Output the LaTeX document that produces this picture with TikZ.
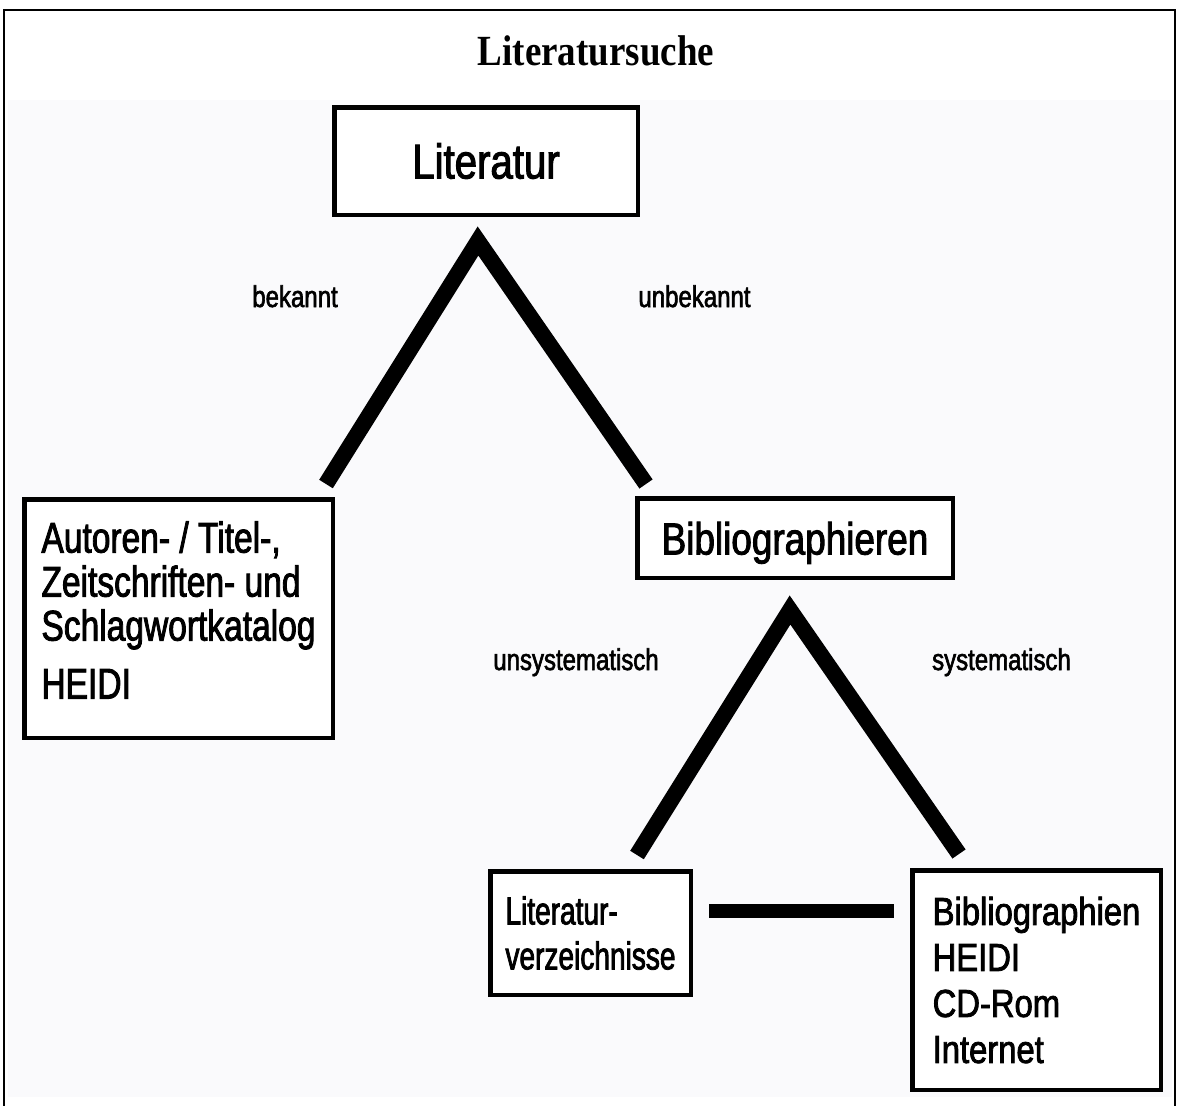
\documentclass[tikz,border=0pt]{standalone}
\usepackage{fontspec}
\setmainfont{Liberation Sans}
\newfontfamily\titlefont{Liberation Serif}[FakeStretch=0.86]
\newfontfamily\boxfont{Liberation Sans}[FakeStretch=0.82,FakeBold=2]
\newfontfamily\katfont{Liberation Sans}[FakeStretch=0.78,FakeBold=2]
\newfontfamily\narrowfont{Liberation Sans}[FakeStretch=0.72,FakeBold=2]
\newfontfamily\rightfont{Liberation Sans}[FakeStretch=0.84,FakeBold=2]
\newfontfamily\labelfont{Liberation Sans}[FakeStretch=0.80,FakeBold=2]
\definecolor{scanbg}{RGB}{250,250,252}
\tikzset{
  box/.style={draw=black, line width=4.5pt, inner sep=0pt, align=left, fill=white},
  leg/.style={draw=black, line width=16pt, line join=miter, line cap=butt},
  barline/.style={draw=black, line width=14pt, line cap=butt},
  lbl/.style={anchor=base, inner sep=0pt, font=\labelfont\fontsize{30}{32}\selectfont},
}
\begin{document}
\begin{tikzpicture}[x=1pt,y=-1pt]
\useasboundingbox (0,0) rectangle (1179,1106);
\fill[white] (0,0) rectangle (1179,1106);
\fill[scanbg] (8,100) rectangle (1172,1097);
\draw[line width=2.5pt] (4,1106) -- (4,10) -- (1175,10) -- (1175,1106);

\node[anchor=base, inner sep=0pt, font=\titlefont\bfseries\fontsize{43}{45}\selectfont] (title) at (596,65) {Literatursuche};

\node[box, minimum width=303.5pt, minimum height=107.5pt, text height=35pt, text depth=0pt,
      font=\boxfont\fontsize{49}{52}\selectfont] (lit) at (486,161) {Literatur};

\node[box, minimum width=308.5pt, minimum height=238.5pt,
      font=\katfont\fontsize{43}{44}\selectfont] (kat) at (178.5,618.5)
  {Autoren- / Titel-,\\Zeitschriften- und\\Schlagwortkatalog\\[14pt]HEIDI\rule[-17pt]{0pt}{0pt}};

\node[box, minimum width=315.5pt, minimum height=79.5pt, text height=33pt, text depth=0pt,
      font=\boxfont\fontsize{45}{48}\selectfont] (bib) at (795,538) {Bibliographieren};

\node[box, minimum width=200.5pt, minimum height=123.5pt,
      font=\narrowfont\fontsize{39}{45}\selectfont] (verz) at (590.5,933)
  {Literatur-\\verzeichnisse};

\node[box, minimum width=248.5pt, minimum height=219.5pt,
      font=\rightfont\fontsize{39}{46}\selectfont] (bibl) at (1036.5,980)
  {Bibliographien\\HEIDI\\CD-Rom\\Internet};

\node[lbl] (bek) at (295,307) {bekannt};
\node[lbl] (unbek) at (694.5,307) {unbekannt};
\node[lbl] (unsys) at (576,670) {unsystematisch};
\node[lbl] (sys) at (1001.5,670) {systematisch};

\coordinate (apexA) at (478,241);
\coordinate (leftA) at (326,484);
\coordinate (rightA) at (646,484);
\coordinate (apexB) at (790,610);
\coordinate (leftB) at (637,855);
\coordinate (rightB) at (959,854);
\coordinate (barL) at (709,911);
\coordinate (barR) at (894,911);

\draw[leg] (leftA) -- (apexA) -- (rightA);
\draw[leg] (leftB) -- (apexB) -- (rightB);
\draw[barline] (barL) -- (barR);
\end{tikzpicture}
\end{document}
